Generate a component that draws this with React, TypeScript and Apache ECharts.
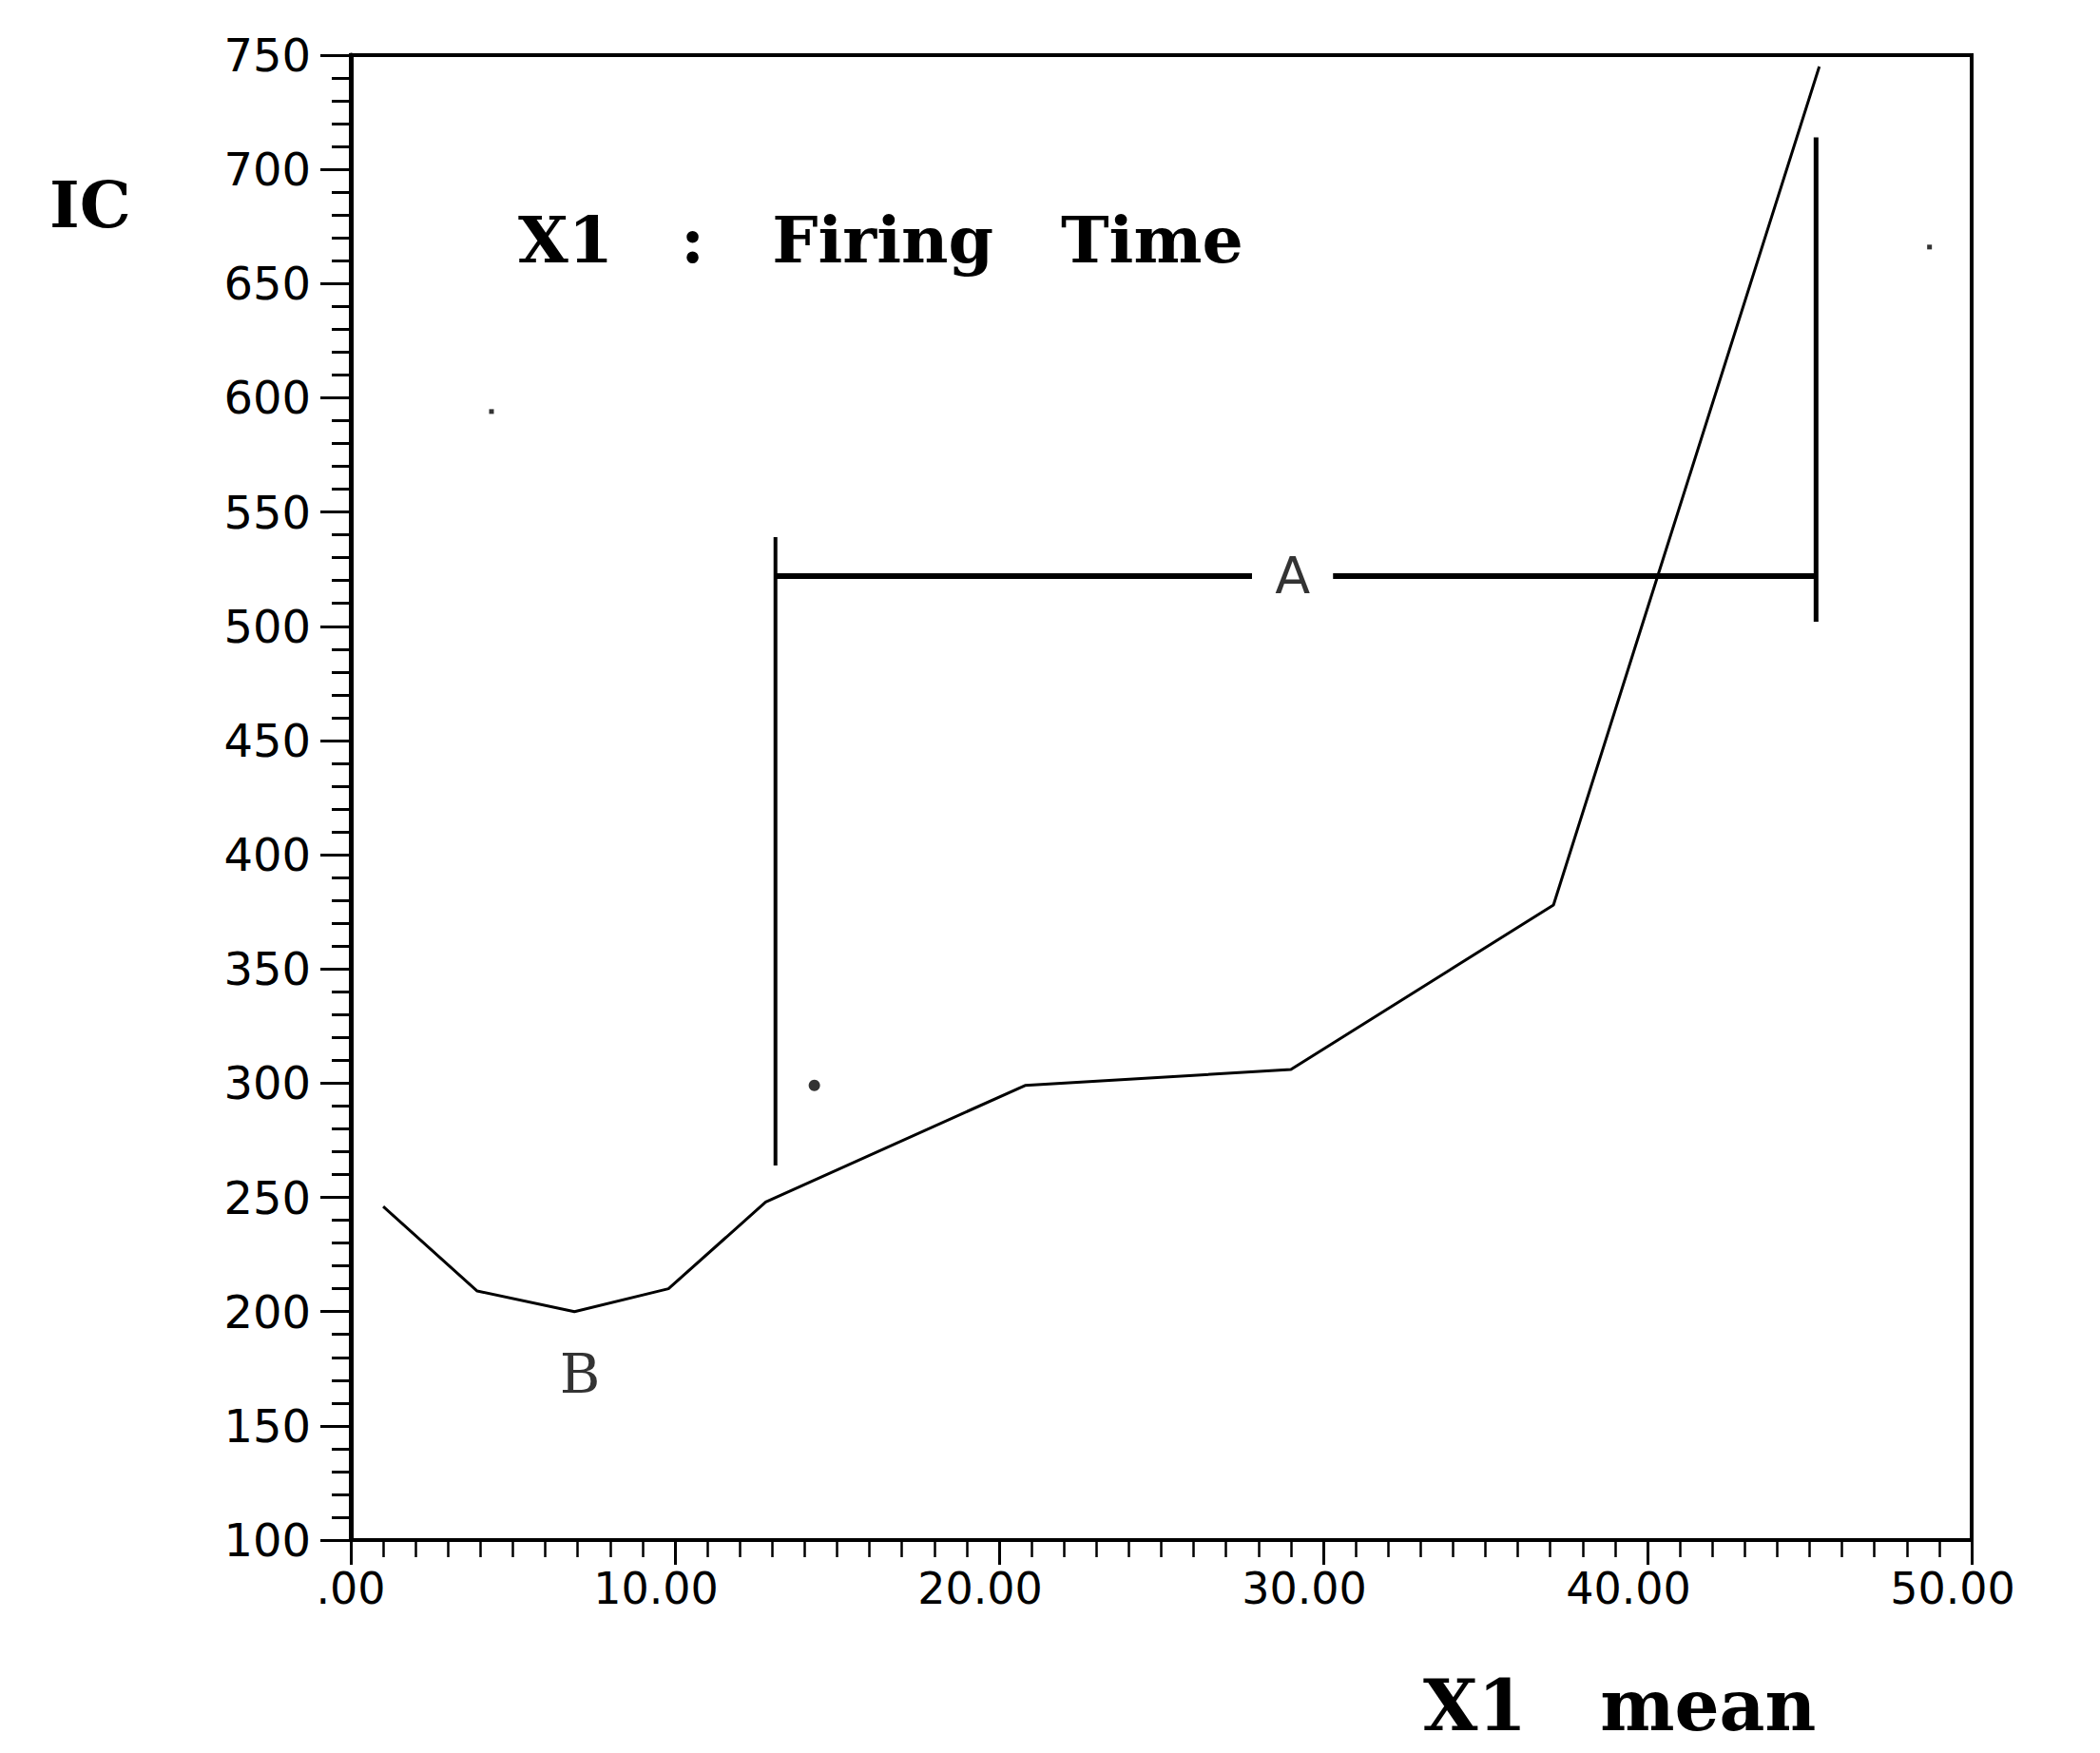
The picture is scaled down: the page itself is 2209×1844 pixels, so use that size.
import React, { useEffect, useRef } from 'react';
import * as echarts from 'echarts';

// Main curve: X1 mean vs IC
const xMean = [1.0, 3.9, 6.9, 9.8, 12.8, 20.8, 29.0, 37.1, 39.6, 45.3];
const icValues = [246, 209, 200, 210, 248, 299, 306, 378, 490, 745];

// Tick labels on the x axis (value -> label)
const xTickValues = [0, 10, 20, 30, 40, 50];
const xTickLabels = ['.00', '10.00', '20.00', '30.00', '40.00', '50.00'];

// Bracket "A"
const aLeftX = [13.1, 13.1];
const aLeftY = [539, 264];
const aRightX = [45.2, 45.2];
const aRightY = [714, 502];
const aBarLeftX = [13.1, 27.8];
const aBarRightX = [30.3, 45.2];
const aBarY = [522, 522];
const aLabel = [29.05, 522];

// Marker "B" and a lone point
const bLabel = [7.07, 173];
const lonePoint = [14.3, 299];
const specks = [[4.34, 594], [48.7, 666]];

const zip = (xs: number[], ys: number[]) => xs.map((x, i) => [x, ys[i]]);

export default function App() {
  const ref = useRef<HTMLDivElement>(null);
  useEffect(() => {
    document.body.style.margin = '0';
    const chart = echarts.init(ref.current!, null, { renderer: 'svg' });
    const black = '#000';
    const segStyle = (w: number) => ({
      type: 'line',
      symbol: 'none',
      silent: true,
      lineStyle: { color: black, width: w },
    });
    chart.setOption({
      animation: false,
      backgroundColor: '#fff',
      grid: {
        left: 369,
        right: 135,
        top: 58,
        bottom: 224,
        show: true,
        borderColor: black,
        borderWidth: 4,
        backgroundColor: 'transparent',
      },
      xAxis: {
        type: 'value',
        min: 0,
        max: 50,
        interval: 10,
        axisLine: { show: true, lineStyle: { color: black, width: 4 } },
        axisTick: { show: true, inside: false, length: 26, lineStyle: { color: black, width: 3 } },
        minorTick: { show: true, splitNumber: 10, length: 18, lineStyle: { color: black, width: 2.5 } },
        splitLine: { show: false },
        minorSplitLine: { show: false },
        axisLabel: {
          margin: 28,
          color: black,
          fontFamily: 'DejaVu Sans',
          fontSize: 46,
          formatter: (v: number) => {
            const i = xTickValues.indexOf(v);
            const t = i >= 0 ? xTickLabels[i] : '';
            return v === 0 ? '{z|' + t + '}' : '{n|' + t + '}';
          },
          rich: {
            z: { fontFamily: 'DejaVu Sans', fontSize: 46, color: black },
            n: { fontFamily: 'DejaVu Sans', fontSize: 46, color: black, padding: [0, 40, 0, 0] },
          },
        },
      },
      yAxis: {
        type: 'value',
        min: 100,
        max: 750,
        interval: 50,
        axisLine: { show: true, lineStyle: { color: black, width: 5 } },
        axisTick: { show: true, inside: false, length: 32, lineStyle: { color: black, width: 3 } },
        minorTick: { show: true, splitNumber: 5, length: 20, lineStyle: { color: black, width: 3 } },
        splitLine: { show: false },
        minorSplitLine: { show: false },
        axisLabel: {
          margin: 42,
          color: black,
          fontFamily: 'DejaVu Sans',
          fontSize: 48,
        },
      },
      graphic: [
        {
          type: 'text',
          x: 52,
          y: 215,
          style: {
            text: 'IC',
            font: 'bold 68px "DejaVu Serif"',
            fill: black,
            align: 'left',
            verticalAlign: 'middle',
            textAlign: 'left',
            textVerticalAlign: 'middle',
          },
        },
        {
          type: 'text',
          x: 545,
          y: 252,
          style: {
            text: 'X1\u00A0\u00A0\u00A0:\u00A0\u00A0\u00A0Firing\u00A0\u00A0\u00A0Time',
            font: 'bold 68px "DejaVu Serif"',
            fill: black,
            align: 'left',
            verticalAlign: 'middle',
            textAlign: 'left',
            textVerticalAlign: 'middle',
          },
        },
        {
          type: 'text',
          x: 1497,
          y: 1794,
          style: {
            text: 'X1\u00A0\u00A0\u00A0mean',
            font: 'bold 74px "DejaVu Serif"',
            fill: black,
            align: 'left',
            verticalAlign: 'middle',
            textAlign: 'left',
            textVerticalAlign: 'middle',
          },
        },
      ],
      series: [
        {
          type: 'line',
          data: zip(xMean, icValues),
          symbol: 'none',
          silent: true,
          lineStyle: { color: black, width: 3 },
        },
        { ...segStyle(4), data: zip(aLeftX, aLeftY) },
        { ...segStyle(5), data: zip(aRightX, aRightY) },
        { ...segStyle(6), data: zip(aBarLeftX, aBarY) },
        { ...segStyle(6), data: zip(aBarRightX, aBarY) },
        {
          type: 'scatter',
          silent: true,
          symbolSize: 0,
          data: [aLabel],
          label: {
            show: true,
            position: 'inside',
            formatter: 'A',
            color: black,
            fontFamily: 'DejaVu Sans',
            fontSize: 54,
          },
        },
        {
          type: 'scatter',
          silent: true,
          symbolSize: 0,
          data: [bLabel],
          label: {
            show: true,
            position: 'inside',
            formatter: 'B',
            color: black,
            fontFamily: 'DejaVu Serif',
            fontSize: 58,
          },
        },
        {
          type: 'scatter',
          silent: true,
          symbol: 'circle',
          symbolSize: 12,
          itemStyle: { color: black },
          data: [lonePoint],
        },
        {
          type: 'scatter',
          silent: true,
          symbol: 'rect',
          symbolSize: 5,
          itemStyle: { color: black },
          data: specks,
        },
      ],
    });
    return () => chart.dispose();
  }, []);
  return (
    <div
      ref={ref}
      style={{ position: 'absolute', left: 0, top: 0, width: 2209, height: 1844, background: '#fff' }}
    />
  );
}
